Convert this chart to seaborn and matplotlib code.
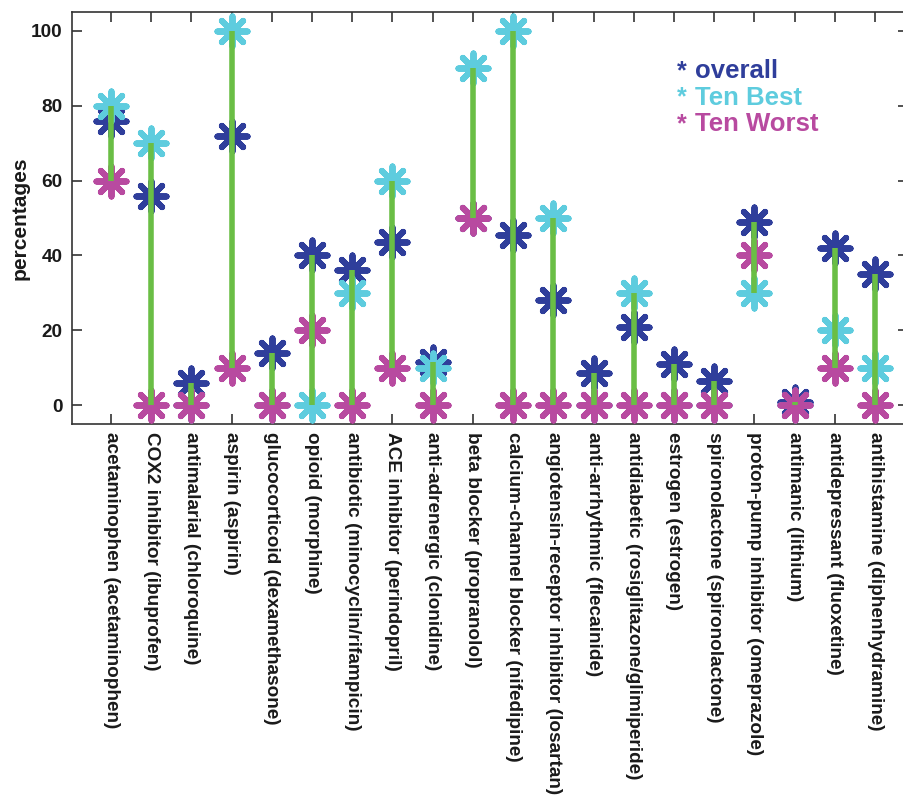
import numpy as np
import pandas as pd
import matplotlib
matplotlib.use("Agg")
import matplotlib.pyplot as plt
import seaborn as sns

categories = [
    "acetaminophen (acetaminophen)", "COX2 inhibitor (ibuprofen)", "antimalarial (chloroquine)",
    "aspirin (aspirin)", "glucocorticoid (dexamethasone)", "opioid (morphine)",
    "antibiotic (minocyclin/rifampicin)", "ACE inhibitor (perindopril)", "anti-adrenergic (clonidine)",
    "beta blocker (propranolol)", "calcium-channel blocker (nifedipine)",
    "angiotensin-receptor inhibitor (losartan)", "anti-arrhythmic (flecainide)",
    "antidiabetic (rosiglitazone/glimiperide)", "estrogen (estrogen)", "spironolactone (spironolactone)",
    "proton-pump inhibitor (omeprazole)", "antimanic (lithium)", "antidepressant (fluoxetine)",
    "antihistamine (diphenhydramine)",
]
overall   = [76, 56, 6, 72, 14, 40, 36, 43.5, 11.5, 50, 45.5, 28, 8.5, 21, 11, 6.5, 49, 1, 42, 35]
ten_best  = [80, 70, 0, 100, 0, 0, 30, 60, 10, 90, 100, 50, 0, 30, 0, 0, 30, 0, 20, 10]
ten_worst = [60, 0, 0, 10, 0, 20, 0, 10, 0, 50, 0, 0, 0, 0, 0, 0, 40, 0, 10, 0]
yticks = [0, 20, 40, 60, 80, 100]
legend_labels = ["overall", "Ten Best", "Ten Worst"]

c_blue, c_cyan, c_mag, c_green = "#2F3E9B", "#5ECCDE", "#B84AA0", "#6ABE45"

sns.set_theme(style="white")
plt.rcParams["font.family"] = ["Liberation Sans", "DejaVu Sans"]
plt.rcParams["font.weight"] = "bold"

pos = np.arange(1, len(categories) + 1)
df = pd.DataFrame({"pos": pos, "overall": overall, "best": ten_best, "worst": ten_worst})
df["lo"] = df[["overall", "best", "worst"]].min(axis=1)
df["hi"] = df[["overall", "best", "worst"]].max(axis=1)

fig = plt.figure(figsize=(9.04, 7.96), dpi=100)
ax = fig.add_axes([72/904, 1 - 424/796, (908 - 72)/904, 412/796])

mk = (8, 2, 0)
for col, c in [("overall", c_blue), ("best", c_cyan), ("worst", c_mag)]:
    sns.scatterplot(data=df, x="pos", y=col, marker=mk, s=470, color=c,
                    linewidth=4.3, ax=ax, clip_on=False, zorder=3, legend=False)

ax.vlines(df["pos"], df["lo"], df["hi"], color=c_green, linewidth=4.0, zorder=4)

ax.set_xlim(0.03, 20.82)
ax.set_ylim(-5, 105)
ax.set_xticks(pos)
ax.set_xticklabels(categories, rotation=270, ha="center", va="top",
                   fontsize=13.7, fontweight="bold", color="#1a1a1a")
ax.set_yticks(yticks)
ax.set_yticklabels([str(v) for v in yticks], fontsize=13.7, fontweight="bold", color="#1a1a1a")
ax.set_xlabel("")
ax.set_ylabel("percentages", fontsize=15, fontweight="bold", color="#1a1a1a", labelpad=1)

ax.tick_params(axis="both", direction="in", length=7, width=1.2, color="#333333",
               top=True, right=True, bottom=True, left=True)
ax.tick_params(axis="x", pad=6)
ax.tick_params(axis="y", pad=7)
for s in ax.spines.values():
    s.set_visible(True)
    s.set_color("#333333")
    s.set_linewidth(1.2)

for i, (lab, c) in enumerate(zip(legend_labels, [c_blue, c_cyan, c_mag])):
    y = 0.84 - i * 0.065
    ax.text(0.723, y, "*", transform=ax.transAxes, color=c, fontsize=18,
            fontweight="bold", ha="left", va="baseline")
    ax.text(0.745, y, lab, transform=ax.transAxes, color=c, fontsize=18.5,
            fontweight="bold", ha="left", va="baseline")

fig.savefig("out.png", dpi=100)
